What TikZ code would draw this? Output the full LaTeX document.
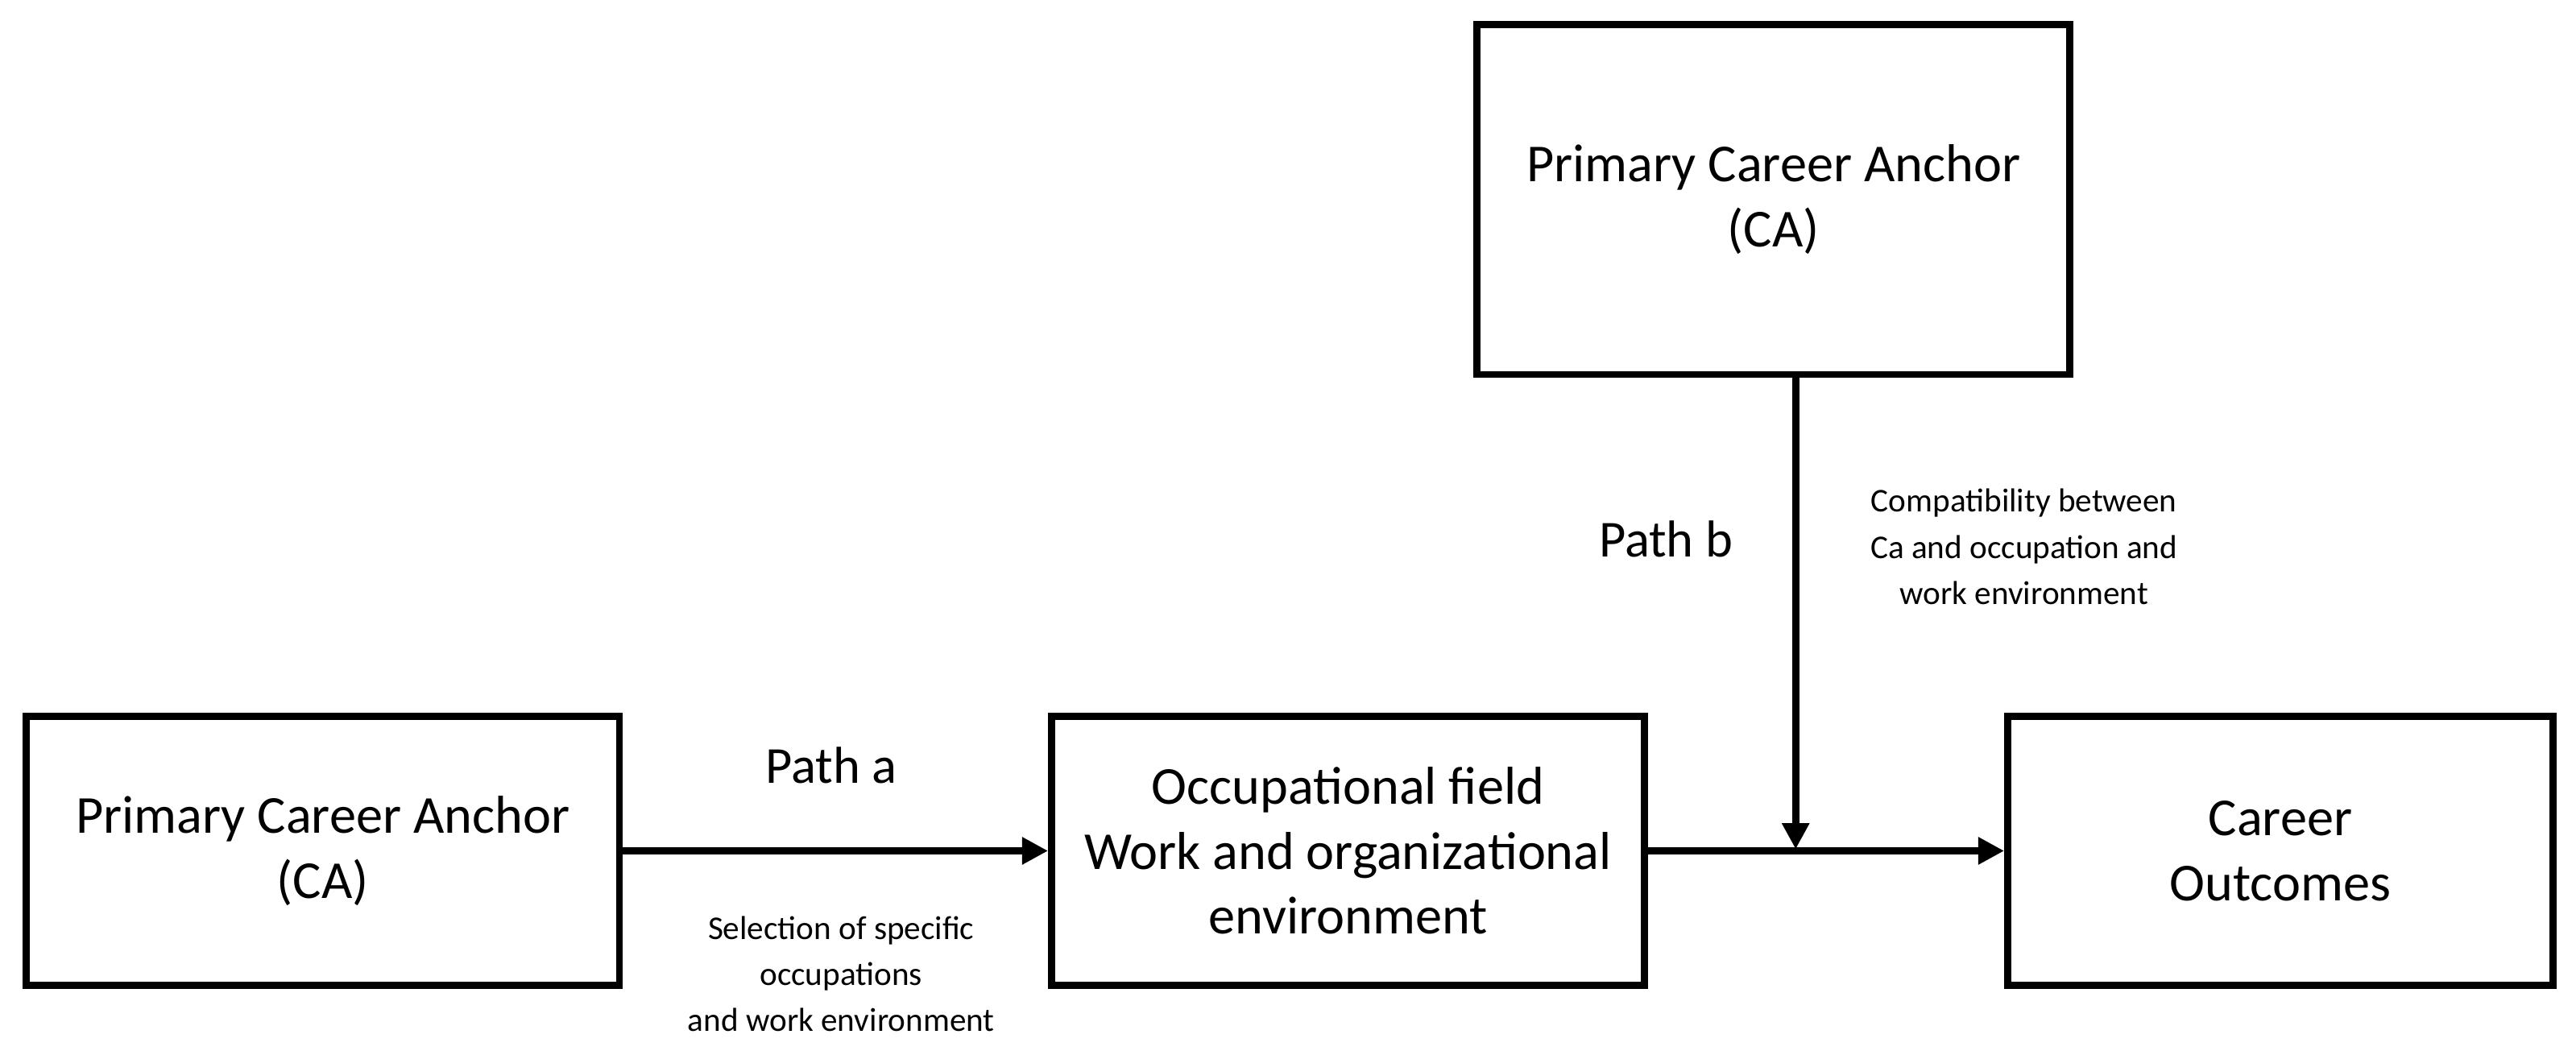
\documentclass[tikz,border=0pt]{standalone}
\usepackage{fontspec}
\setmainfont{Carlito}
\usetikzlibrary{arrows.meta}
\begin{document}
\begin{tikzpicture}[x=0.02cm,y=-0.02cm,
  box/.style={draw,line width=2.4pt,inner sep=0pt,align=center,font=\fontsize{18.5}{22.5}\selectfont},
  arr/.style={line width=2.4pt,-{Triangle[length=9pt,width=9pt]}},
  lab/.style={font=\fontsize{18}{21}\selectfont},
  small/.style={align=center,font=\fontsize{11.5}{16}\selectfont}]
\useasboundingbox (0,0) rectangle (1568,642);
\node[box,minimum width=7.22cm,minimum height=3.28cm] (L) at (196.5,518) {Primary Career Anchor\\(CA)};
\node[box,minimum width=7.22cm,minimum height=3.28cm] (M) at (820.5,518) {Occupational field\\Work and organizational\\environment};
\node[box,minimum width=6.64cm,minimum height=3.28cm] (R) at (1388,518) {Career\\Outcomes};
\node[box,minimum width=7.22cm,minimum height=4.26cm] (T) at (1079.5,121.5) {Primary Career Anchor\\(CA)};
\coordinate (Ts) at (1093,228); \coordinate (J) at (1093,517);
\draw[arr] (L.east) -- (M.west);
\draw[arr] (M.east) -- (R.west);
\draw[arr] (Ts) -- (J);
\node[lab] (pa) at (506,466) {Path a};
\node[lab] (pb) at (1014,328) {Path b};
\node[small] (sa) at (512,593) {Selection of specific\\occupations\\and work environment};
\node[small] (sb) at (1232,333) {Compatibility between\\Ca and occupation and\\work environment};
\end{tikzpicture}
\end{document}
